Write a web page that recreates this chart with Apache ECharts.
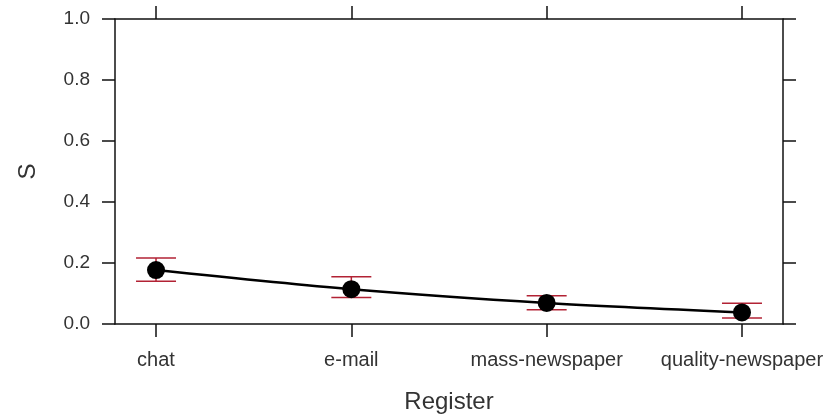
<!DOCTYPE html>
<html><head><meta charset="utf-8">
<script src="https://cdn.jsdelivr.net/npm/echarts@6/dist/echarts.min.js"></script>
<style>html,body{margin:0;padding:0;background:#fff}#c{width:837px;height:419px}</style>
</head><body><div id="c"></div>
<script>
var categories = ['chat', 'e-mail', 'mass-newspaper', 'quality-newspaper'];
var fit = [0.177, 0.114, 0.069, 0.038];
var lower = [0.140, 0.087, 0.047, 0.020];
var upper = [0.216, 0.155, 0.093, 0.068];
var yTicks = [0, 0.2, 0.4, 0.6, 0.8, 1.0];

var pos = categories.map(function (c, i) { return i + 1; });
var lineData = pos.map(function (p, i) { return [p, fit[i]]; });
var errData = pos.map(function (p, i) { return [p, lower[i], upper[i]]; });

var chart = echarts.init(document.getElementById('c'));
var fontFam = 'Liberation Sans, Arial, sans-serif';
var axisLine = { show: true, onZero: false, lineStyle: { color: '#111', width: 1.5 } };
var tickStyle = { color: '#111', width: 1.5 };
chart.setOption({
  animation: false,
  grid: { left: 115, right: 54, top: 19, bottom: 94 },
  xAxis: [{
    type: 'value', min: 0.79, max: 4.21, position: 'bottom',
    axisLine: axisLine, splitLine: { show: false },
    axisTick: { show: true, length: 13, inside: false, customValues: pos, lineStyle: tickStyle },
    axisLabel: { customValues: pos, margin: 26, fontSize: 20, color: '#333', fontFamily: fontFam,
      formatter: function (v) { return categories[Math.round(v) - 1] || ''; } },
    name: 'Register', nameLocation: 'middle', nameGap: 66,
    nameTextStyle: { fontSize: 24, color: '#333', fontFamily: fontFam }
  }, {
    type: 'value', min: 0.79, max: 4.21, position: 'top',
    axisLine: axisLine, splitLine: { show: false },
    axisTick: { show: true, length: 13, customValues: pos, lineStyle: tickStyle },
    axisLabel: { show: false }
  }],
  yAxis: [{
    type: 'value', min: 0, max: 1, interval: 0.2, position: 'left',
    axisLine: axisLine, splitLine: { show: false },
    axisTick: { show: true, length: 13, lineStyle: tickStyle },
    axisLabel: { customValues: yTicks, margin: 25, fontSize: 19, color: '#333', fontFamily: fontFam,
      formatter: function (v) { return v.toFixed(1); } },
    name: 'S', nameLocation: 'middle', nameGap: 75,
    nameTextStyle: { fontSize: 24, color: '#333', fontFamily: fontFam }
  }, {
    type: 'value', min: 0, max: 1, interval: 0.2, position: 'right',
    axisLine: axisLine, splitLine: { show: false },
    axisTick: { show: true, length: 13, lineStyle: tickStyle },
    axisLabel: { show: false }
  }],
  series: [{
    type: 'line', data: lineData, smooth: 0.3,
    lineStyle: { color: '#000', width: 2.5 },
    symbol: 'none', z: 2
  }, {
    type: 'custom', data: errData, z: 3,
    renderItem: function (params, api) {
      var x = api.value(0);
      var lo = api.coord([x, api.value(1)]);
      var hi = api.coord([x, api.value(2)]);
      var hw = 20;
      var st = { stroke: '#b22234', lineWidth: 1.5 };
      return { type: 'group', children: [
        { type: 'line', shape: { x1: lo[0] - hw, y1: lo[1], x2: lo[0] + hw, y2: lo[1] }, style: st },
        { type: 'line', shape: { x1: hi[0] - hw, y1: hi[1], x2: hi[0] + hw, y2: hi[1] }, style: st },
        { type: 'line', shape: { x1: lo[0], y1: lo[1], x2: hi[0], y2: hi[1] }, style: st }
      ] };
    }
  }, {
    type: 'scatter', data: lineData, symbol: 'circle', symbolSize: 18,
    itemStyle: { color: '#000', opacity: 1 }, z: 4
  }]
});
</script></body></html>
